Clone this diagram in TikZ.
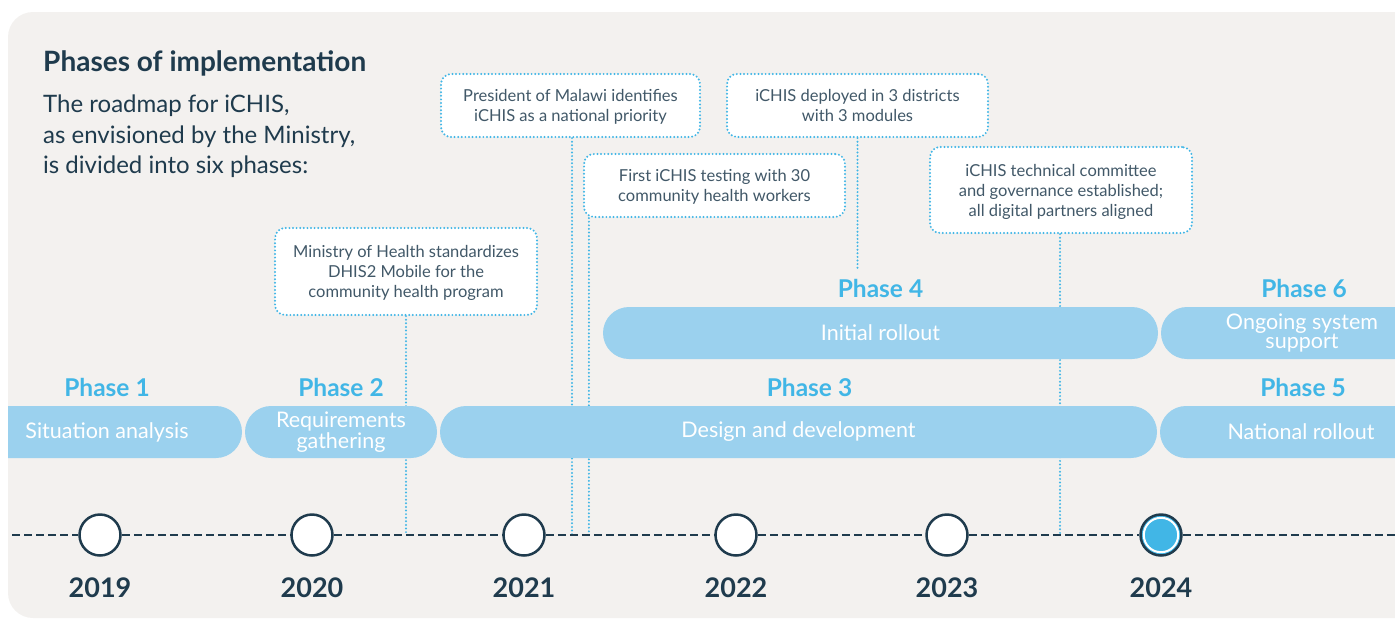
\documentclass[tikz,border=0pt]{standalone}
\usepackage{fontspec}
\setmainfont{Lato}
\usetikzlibrary{shapes.misc, positioning}
\definecolor{ink}{HTML}{1F3B4D}
\definecolor{sky}{HTML}{41B6E6}
\definecolor{pill}{HTML}{9BD1EE}
\definecolor{paper}{HTML}{F3F1EF}
\tikzset{note/.style = {draw=sky, fill=white, rounded corners=10pt, line width=2.2pt,
    dash pattern=on 0pt off 3.6pt, line cap=round, align=center, text=ink!85,
    font=\fontsize{16.5}{20}\selectfont, inner sep=0pt, minimum height=63pt, text depth=-10pt}}
\tikzset{link/.style = {draw=sky, line width=2.2pt, dash pattern=on 0pt off 3.6pt, line cap=round}}
\tikzset{bar/.style = {rounded rectangle, fill=pill, text=white, minimum height=52pt,
    inner sep=0pt, align=center, font=\fontsize{21.5}{19}\selectfont}}
\tikzset{phase/.style = {text=sky, inner sep=0pt, font=\fontsize{24.5}{24}\selectfont\bfseries}}
\tikzset{dot/.style = {circle, draw=ink, fill=white, line width=2.5pt, minimum size=41pt, inner sep=0pt}}
\tikzset{year/.style = {text=ink, inner sep=0pt, font=\fontsize{27}{27}\selectfont\bfseries}}

\begin{document}
\begin{tikzpicture}[x=1pt, y=-1pt]
\useasboundingbox (0,0) rectangle (1395,619);
\fill[paper, rounded corners=25pt] (8,12) rectangle (1430,618);

\node[anchor=base west, inner sep=0pt, text=ink, font=\fontsize{28}{27}\selectfont\bfseries] (title) at (43,71) {Phases of implementation};
\node[anchor=north west, inner sep=0pt, align=left, text=ink, font=\fontsize{24}{30.5}\selectfont] (intro) at (43,95)
  {The roadmap for iCHIS,\\ as envisioned by the Ministry,\\ is divided into six phases:};

% milestones on the timeline
\node[dot] (y2019) at (100,535) {};
\node[dot] (y2020) at (312,535) {};
\node[dot] (y2021) at (524,535) {};
\node[dot] (y2022) at (736,535) {};
\node[dot] (y2023) at (947,535) {};
\node[dot, fill=sky] (y2024) at (1161,535) {};

% events
\node[note, minimum width=259pt] (cPres) at (570.5,105.5) {President of Malawi identifies\\ iCHIS as a national priority};
\node[note, minimum width=261pt] (cDeploy) at (857.5,105.5) {iCHIS deployed in 3 districts\\ with 3 modules};
\node[note, minimum width=261pt] (cTest) at (714.5,185.5) {First iCHIS testing with 30\\ community health workers};
\node[note, minimum width=262pt, minimum height=86pt] (cGov) at (1061,190) {iCHIS technical committee\\ and governance established;\\ all digital partners aligned};
\node[note, minimum width=262pt, minimum height=87pt] (cMoh) at (406,271.5) {Ministry of Health standardizes\\ DHIS2 Mobile for the\\ community health program};

\coordinate (deployEnd) at (858,270);
\draw[link] (cMoh.south) -- (cMoh.south |- y2020);
\draw[link] ([xshift=1.5pt]cPres.south) -- ([xshift=1.5pt]cPres.south |- y2021);
\draw[link] ([xshift=6pt]cTest.south west) -- ([xshift=6pt]cTest.south west |- y2021);
\draw[link] (cDeploy.south) -- (cDeploy.south |- deployEnd);
\draw[link] ([xshift=-1pt]cGov.south) -- ([xshift=-1pt]cGov.south |- y2023);

\begin{scope}
\clip[rounded corners=25pt] (8,12) rectangle (1430,618);
\node[bar, minimum width=270pt] (bar1) at (107,432) {Situation analysis};
\node[bar, minimum width=192pt] (bar2) at (341,432) {Requirements\\ gathering};
\node[bar, minimum width=717pt] (bar3) at (798.5,432) {Design and development};
\node[bar, minimum width=282pt] (bar5) at (1301,432) {National rollout};
\node[bar, minimum width=555pt] (bar4) at (880.5,333) {Initial rollout};
\node[bar, minimum width=282pt] (bar6) at (1302,333) {Ongoing system\\ support};

\coordinate (tl) at (0,535);
\coordinate (tr) at (1395,535);
\draw[ink, line width=2.5pt, dash pattern=on 8pt off 4pt] (tl) -- (y2019) (y2019) -- (y2020) (y2020) -- (y2021)
  (y2021) -- (y2022) (y2022) -- (y2023) (y2023) -- (y2024) (y2024) -- (tr);
\end{scope}
\draw[white, line width=2pt] (y2024.center) circle (17.2pt);

\node[phase, above=9pt of bar1] (lab1) {Phase 1};
\node[phase, above=9pt of bar2] (lab2) {Phase 2};
\node[phase, above=9pt of bar3, xshift=11pt] (lab3) {Phase 3};
\node[phase, above=9pt of bar5, xshift=2pt] (lab5) {Phase 5};
\node[phase, above=9pt of bar4] (lab4) {Phase 4};
\node[phase, above=9pt of bar6, xshift=2pt] (lab6) {Phase 6};

\node[year, below=21pt of y2019] {2019};
\node[year, below=21pt of y2020] {2020};
\node[year, below=21pt of y2021] {2021};
\node[year, below=21pt of y2022] {2022};
\node[year, below=21pt of y2023] {2023};
\node[year, below=21pt of y2024] {2024};
\end{tikzpicture}
\end{document}
